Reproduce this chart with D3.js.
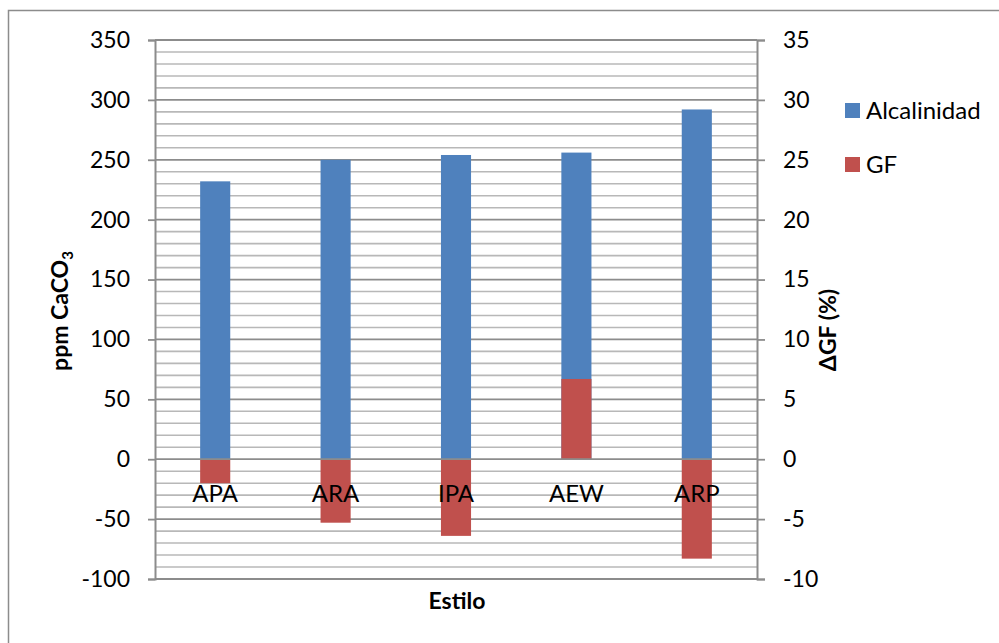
<!DOCTYPE html>
<html><head><meta charset="utf-8">
<script src="https://cdn.jsdelivr.net/npm/d3@7"></script>
<style>
html,body{margin:0;padding:0;background:#fff;}
text{font-family:Lato,"Open Sans",sans-serif;fill:#000;}
</style></head>
<body>
<svg id="chart" width="999" height="643"></svg>
<script>
const categories = ["APA","ARA","IPA","AEW","ARP"];
const alcalinidad = [232, 250, 254, 256, 292];
const gf = [-2.0, -5.3, -6.4, 6.7, -8.3];
const leftTicks = [-100,-50,0,50,100,150,200,250,300,350];
const rightTicks = [-10,-5,0,5,10,15,20,25,30,35];
const seriesNames = ["Alcalinidad","GF"];
const colors = ["#4f81bd","#c0504d"];

(function(){
const svg = d3.select("#chart");
const pL = 155, pR = 757, pT = 40, pB = 579;
const fs = 22, fsL = 24;
const fmt = d => String(d);

svg.append("rect").attr("x",8.5).attr("y",10.5).attr("width",1010).attr("height",660)
  .attr("fill","#fff").attr("stroke","#8c8c8c").attr("stroke-width",1.5);

const yL = d3.scaleLinear().domain([-100,350]).range([pB,pT]);
const yR = d3.scaleLinear().domain([-10,35]).range([pB,pT]);
const x = d3.scaleBand().domain(categories).range([pL,pR]).padding(0);

const minor = d3.range(-100,351,10).filter(v=>v%50!==0);
svg.append("g").selectAll("line").data(minor).join("line")
  .attr("x1",pL).attr("x2",pR).attr("y1",d=>yL(d)).attr("y2",d=>yL(d))
  .attr("stroke","#b8b8b8").attr("stroke-width",1.6);
svg.append("g").selectAll("line").data(leftTicks.filter(v=>v!==0)).join("line")
  .attr("x1",pL).attr("x2",pR).attr("y1",d=>yL(d)).attr("y2",d=>yL(d))
  .attr("stroke","#8c8c8c").attr("stroke-width",1.8);

const bw = x.bandwidth()*0.25;
svg.append("g").selectAll("rect").data(alcalinidad).join("rect")
  .attr("x",(d,i)=>x(categories[i])+x.bandwidth()/2-bw/2)
  .attr("width",bw)
  .attr("y",d=>Math.min(yL(d),yL(0)))
  .attr("height",d=>Math.abs(yL(d)-yL(0)))
  .attr("fill",colors[0]);
svg.append("g").selectAll("rect").data(gf).join("rect")
  .attr("x",(d,i)=>x(categories[i])+x.bandwidth()/2-bw/2)
  .attr("width",bw)
  .attr("y",d=>Math.min(yR(d),yR(0)))
  .attr("height",d=>Math.abs(yR(d)-yR(0)))
  .attr("fill",colors[1]);

svg.append("line").attr("x1",pL).attr("x2",pR).attr("y1",yL(0)).attr("y2",yL(0))
  .attr("stroke","#8c8c8c").attr("stroke-width",1.8);

const gL = svg.append("g").attr("transform",`translate(${pL},0)`)
  .call(d3.axisLeft(yL).tickValues(leftTicks).tickSize(7).tickPadding(18).tickFormat(fmt));
gL.select(".domain").attr("stroke","#8c8c8c").attr("stroke-width",2);
gL.selectAll(".tick line").attr("stroke","#8c8c8c").attr("stroke-width",1.8);
gL.selectAll(".tick text").attr("font-size",fs+1).attr("font-family","Lato").attr("fill","#000");

const gR = svg.append("g").attr("transform",`translate(${pR},0)`)
  .call(d3.axisRight(yR).tickValues(rightTicks).tickSize(8).tickPadding(18).tickFormat(fmt));
gR.select(".domain").attr("stroke","#8c8c8c").attr("stroke-width",2);
gR.selectAll(".tick line").attr("stroke","#8c8c8c").attr("stroke-width",1.8);
gR.selectAll(".tick text").attr("font-size",fs+1).attr("font-family","Lato").attr("fill","#000");

svg.append("g").selectAll("text").data(categories).join("text")
  .attr("x",d=>x(d)+x.bandwidth()/2).attr("y",yL(0)+43)
  .attr("text-anchor","middle").attr("font-size",fsL).text(d=>d);

svg.append("text").attr("transform",`translate(68,311) rotate(-90)`)
  .attr("text-anchor","middle").attr("font-size",fs+1).attr("font-weight","bold")
  .html('ppm CaCO<tspan font-size="15" dy="5">3</tspan>');
svg.append("text").attr("transform",`translate(836,330) rotate(-90)`)
  .attr("text-anchor","middle").attr("font-size",fs+1).attr("font-weight","bold")
  .text("ΔGF (%)");
svg.append("text").attr("x",457).attr("y",609).attr("text-anchor","middle")
  .attr("font-size",fs+1).attr("font-weight","bold").text("Estilo");

const lg = svg.append("g").selectAll("g").data(seriesNames).join("g")
  .attr("transform",(d,i)=>`translate(845,${103+i*54})`);
lg.append("rect").attr("width",15).attr("height",15).attr("fill",(d,i)=>colors[i]);
lg.append("text").attr("x",21).attr("y",16).attr("font-size",fsL).text(d=>d);
})();
</script>
</body></html>
